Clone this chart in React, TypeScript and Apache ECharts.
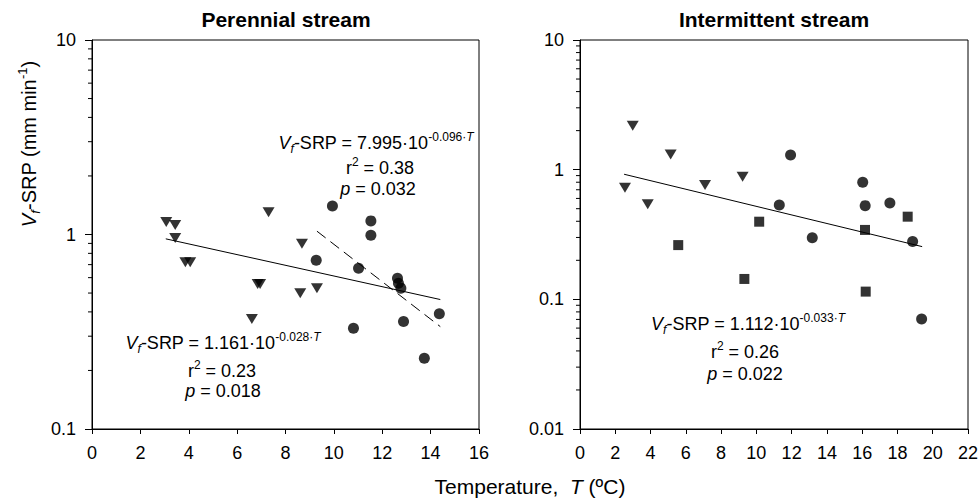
import React, { useEffect, useRef } from "react";
import * as echarts from "echarts";

// ---------- data ----------
const perennialTriangleT = [3.07, 3.44, 3.44, 3.86, 4.06, 7.3, 6.85, 6.95, 6.61, 8.68, 8.61, 9.3];
const perennialTriangleV = [1.16, 1.12, 0.96, 0.72, 0.72, 1.3, 0.556, 0.556, 0.368, 0.895, 0.499, 0.53];
const perennialCircleT = [9.94, 11.53, 11.53, 9.27, 11.02, 12.63, 12.67, 12.77, 10.81, 12.88, 14.36, 13.74];
const perennialCircleV = [1.4, 1.175, 0.991, 0.738, 0.671, 0.596, 0.562, 0.53, 0.33, 0.357, 0.391, 0.231];
const perennialFitAll = [[3.05, 0.95], [14.4, 0.463]];
const perennialFitWarm = [[9.3, 1.04], [14.4, 0.336]];

const intermittentTriangleT = [2.55, 2.99, 3.84, 5.14, 7.09, 9.22];
const intermittentTriangleV = [0.726, 2.18, 0.541, 1.31, 0.762, 0.883];
const intermittentCircleT = [11.94, 11.3, 16.03, 16.17, 17.57, 13.17, 18.86, 19.37];
const intermittentCircleV = [1.3, 0.534, 0.8, 0.528, 0.553, 0.299, 0.279, 0.0706];
const intermittentSquareT = [10.16, 5.57, 9.32, 16.16, 18.58, 16.2];
const intermittentSquareV = [0.397, 0.262, 0.1436, 0.343, 0.434, 0.1147];
const intermittentFit = [[2.5, 0.922], [19.4, 0.255]];

const titles = ["Perennial stream", "Intermittent stream"];
const xMax = [16, 22];
const yMin = [0.1, 0.01];
const yMax = [10, 10];
const leftDecades = [0.1, 1];
const rightDecades = [0.01, 0.1, 1];
const minorMultipliers = [2, 3, 4, 5, 6, 7, 8, 9];

const FONT = "'Liberation Sans', Arial, sans-serif";

const pairs = (xs: number[], ys: number[]) => xs.map((x, i) => [x, ys[i]]);

export default function App() {
  const ref = useRef<HTMLDivElement>(null);
  useEffect(() => {
    if (!ref.current) return;
    const chart = echarts.init(ref.current, null, { renderer: "svg" });

    const grids = [
      { left: 92, top: 40, width: 387, height: 389 },
      { left: 580, top: 40, width: 388, height: 389 },
    ];

    const xAxis = [0, 1].map((i) => ({
      type: "value",
      gridIndex: i,
      min: 0,
      max: xMax[i],
      interval: 2,
      axisLine: { show: true, onZero: false, lineStyle: { color: "#000", width: 1 } },
      axisTick: { show: true, inside: false, length: 5, lineStyle: { color: "#000" } },
      axisLabel: { color: "#000", fontSize: 18, fontFamily: FONT, margin: 15 },
      splitLine: { show: false },
    }));

    const yAxis = [0, 1].map((i) => ({
      type: "log",
      logBase: 10,
      gridIndex: i,
      min: yMin[i],
      max: yMax[i],
      axisLine: { show: true, lineStyle: { color: "#000", width: 1 } },
      axisTick: { show: true, inside: false, length: 7, lineStyle: { color: "#000" } },
      axisLabel: {
        color: "#000",
        fontSize: 18,
        fontFamily: FONT,
        margin: 16,
        formatter: (v: number) => String(Number(v.toPrecision(3))),
      },
      splitLine: { show: false },
      minorTick: { show: false },
    }));

    const minorData = (decades: number[]) => {
      const out: number[][] = [];
      decades.forEach((d) => minorMultipliers.forEach((m) => out.push([0, d * m])));
      return out;
    };

    const minorTickSeries = (i: number, decades: number[]) => ({
      type: "custom",
      xAxisIndex: i,
      yAxisIndex: i,
      silent: true,
      clip: false,
      data: minorData(decades),
      renderItem: (params: any, api: any) => {
        const p = api.coord([api.value(0), api.value(1)]);
        return {
          type: "line",
          shape: { x1: p[0] - 4, y1: p[1], x2: p[0], y2: p[1] },
          style: { stroke: "#000", lineWidth: 1 },
        };
      },
    });

    const scatter = (i: number, data: number[][], symbol: string, size: any, rotate = 0) => ({
      type: "scatter",
      xAxisIndex: i,
      yAxisIndex: i,
      data,
      symbol,
      symbolSize: size,
      symbolRotate: rotate,
      itemStyle: { color: "#000" },
      z: 3,
    });

    const fitLine = (i: number, data: number[][], dashed = false) => ({
      type: "line",
      xAxisIndex: i,
      yAxisIndex: i,
      data,
      showSymbol: false,
      symbol: "none",
      lineStyle: { color: "#000", width: 1, type: dashed ? [11, 6] : "solid" },
      z: 2,
    });

    const makeRich = (fs: number) => ({
      n: { fontSize: fs, fontFamily: FONT, lineHeight: fs + 6, fill: "#000" },
      it: { fontSize: fs, fontFamily: FONT, fontStyle: "italic", lineHeight: fs + 6, fill: "#000" },
      sub: { fontSize: Math.round(fs * 0.64), fontFamily: FONT, fontStyle: "italic", lineHeight: 14, verticalAlign: "bottom", fill: "#000" },
      sup: { fontSize: Math.round(fs * 0.64), fontFamily: FONT, lineHeight: 14, verticalAlign: "top", fill: "#000" },
      supit: { fontSize: Math.round(fs * 0.64), fontFamily: FONT, fontStyle: "italic", lineHeight: 14, verticalAlign: "top", fill: "#000" },
    });

    const txt = (x: number, y: number, text: string, extra: any = {}, fs = 18) => ({
      type: "text",
      x,
      y,
      silent: true,
      style: {
        text,
        textAlign: "center",
        textVerticalAlign: "middle",
        fill: "#000",
        fontSize: fs,
        fontFamily: FONT,
        rich: makeRich(fs),
        ...extra,
      },
    });

    const graphic = [
      txt(286, 19, titles[0], { fontSize: 21, fontWeight: "bold" }),
      txt(774, 19, titles[1], { fontSize: 21, fontWeight: "bold" }),
      // left panel, warm-season fit
      txt(376, 143, "{it|V}{sub|f}{n|-SRP = 7.995·10}{sup|-0.096·}{supit|T}"),
      txt(380, 168, "{n|r}{sup|2}{n| = 0.38}"),
      txt(378, 189, "{it|p}{n| = 0.032}"),
      // left panel, all data fit
      txt(223, 343, "{it|V}{sub|f}{n|-SRP = 1.161·10}{sup|-0.028·}{supit|T}"),
      txt(222, 371, "{n|r}{sup|2}{n| = 0.23}"),
      txt(223, 391, "{it|p}{n| = 0.018}"),
      // right panel
      txt(748, 324, "{it|V}{sub|f}{n|-SRP = 1.112·10}{sup|-0.033·}{supit|T}"),
      txt(745, 352, "{n|r}{sup|2}{n| = 0.26}"),
      txt(745, 374, "{it|p}{n| = 0.022}"),
      // axis names
      txt(530, 486, "{n|Temperature,  }{it|T}{n| (ºC)}", {}, 21),
      {
        type: "text",
        x: 29,
        y: 144,
        rotation: Math.PI / 2,
        silent: true,
        style: {
          text: "{it|V}{sub|f}{n|-SRP (mm min}{sup|-1}{n|)}",
          textAlign: "center",
          textVerticalAlign: "middle",
          fill: "#000",
          rich: makeRich(20),
        },
      },
    ];

    chart.setOption({
      animation: false,
      backgroundColor: "#fff",
      grid: grids.map((g) => ({
        ...g,
        show: true,
        borderColor: "#000",
        borderWidth: 1,
        backgroundColor: "transparent",
        containLabel: false,
        outerBoundsMode: "none",
      })),
      xAxis,
      yAxis,
      series: [
        fitLine(0, perennialFitAll),
        fitLine(0, perennialFitWarm, true),
        scatter(0, pairs(perennialTriangleT, perennialTriangleV), "triangle", [12, 10], 180),
        scatter(0, pairs(perennialCircleT, perennialCircleV), "circle", 11),
        minorTickSeries(0, leftDecades),
        fitLine(1, intermittentFit),
        scatter(1, pairs(intermittentTriangleT, intermittentTriangleV), "triangle", [12, 10], 180),
        scatter(1, pairs(intermittentCircleT, intermittentCircleV), "circle", 11),
        scatter(1, pairs(intermittentSquareT, intermittentSquareV), "rect", 10),
        minorTickSeries(1, rightDecades),
      ],
      graphic,
    });

    return () => chart.dispose();
  }, []);

  return (
    <div
      ref={ref}
      style={{ position: "absolute", left: 0, top: 0, width: 979, height: 500, background: "#fff" }}
    />
  );
}
